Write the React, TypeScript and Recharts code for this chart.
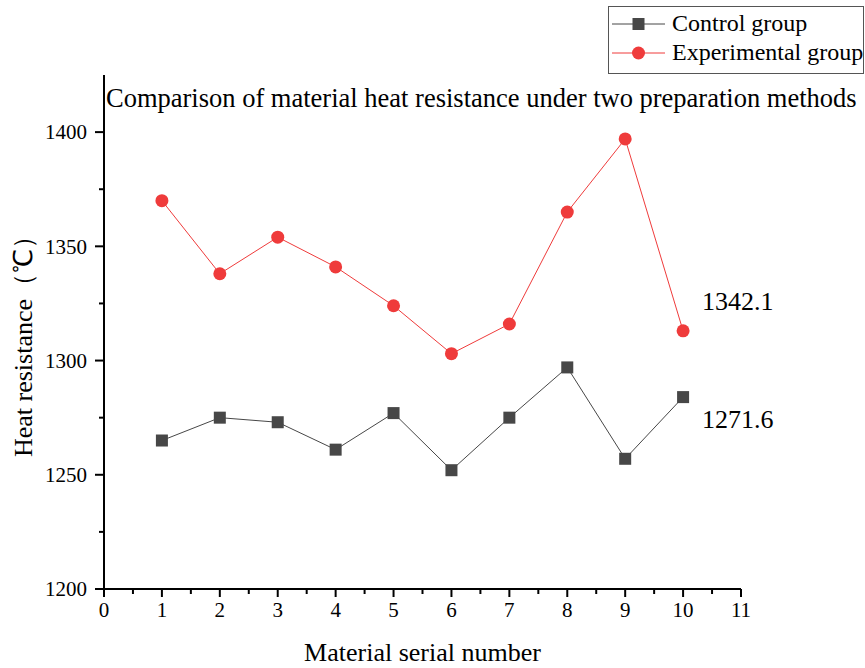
import React from 'react';
import {
  LineChart,
  Line,
  XAxis,
  YAxis,
  Legend,
  Label,
} from 'recharts';

const serialNumbers = [1, 2, 3, 4, 5, 6, 7, 8, 9, 10];
const controlValues = [1265, 1275, 1273, 1261, 1277, 1252, 1275, 1297, 1257, 1284];
const experimentalValues = [1370, 1338, 1354, 1341, 1324, 1303, 1316, 1365, 1397, 1313];
const xTicks = [0, 0.5, 1, 1.5, 2, 2.5, 3, 3.5, 4, 4.5, 5, 5.5, 6, 6.5, 7, 7.5, 8, 8.5, 9, 9.5, 10, 10.5, 11];
const yTicks = [1200, 1225, 1250, 1275, 1300, 1325, 1350, 1375, 1400];

const data = serialNumbers.map((n, i) => ({
  x: n,
  control: controlValues[i],
  experimental: experimentalValues[i],
}));

const mean = (arr: number[]) => arr.reduce((s, v) => s + v, 0) / arr.length;

const FONT = '"Liberation Serif", "Times New Roman", serif';
const CONTROL = '#474747';
const EXP = '#ef3b3b';

const XTick = (props: any) => {
  const { x, y, payload } = props;
  const axisY = y - 12;
  const major = Number.isInteger(payload.value);
  return (
    <g>
      <line x1={x} x2={x} y1={axisY} y2={axisY + (major ? 8 : 5)} stroke="#000" strokeWidth={2} />
      {major && (
        <text x={x} y={axisY + 12} dy="0.75em" textAnchor="middle" fontSize={21} fontFamily={FONT} fill="#000">
          {payload.value}
        </text>
      )}
    </g>
  );
};

const YTick = (props: any) => {
  const { x, y, payload } = props;
  const axisX = x + 17;
  const major = payload.value % 50 === 0;
  return (
    <g>
      <line x1={axisX} x2={axisX - (major ? 9 : 5)} y1={y} y2={y} stroke="#000" strokeWidth={2} />
      {major && (
        <text x={axisX - 17} y={y} dy="0.35em" textAnchor="end" fontSize={21} fontFamily={FONT} fill="#000">
          {payload.value}
        </text>
      )}
    </g>
  );
};

const SquareDot = (props: any) => {
  const { cx, cy } = props;
  return <rect x={cx - 6} y={cy - 6} width={12} height={12} fill={CONTROL} />;
};

const CircleDot = (props: any) => {
  const { cx, cy } = props;
  return <circle cx={cx} cy={cy} r={6.5} fill={EXP} />;
};

// mean value written next to the last point of each series
const endLabel = (text: string, dy: number) => (props: any) => {
  const { x, y, index } = props;
  if (index !== serialNumbers.length - 1) return null;
  return (
    <text x={x + 19} y={y + dy} dy="0.35em" fontSize={26} fontFamily={FONT} fill="#000">
      {text}
    </text>
  );
};

const LegendBox = () => (
  <div
    style={{
      border: '1px solid #555',
      background: '#fff',
      width: 254,
      height: 64,
      boxSizing: 'content-box',
      fontFamily: FONT,
      fontSize: 24,
      color: '#000',
      paddingTop: 2,
    }}
  >
    {[
      { name: 'Control group', color: CONTROL, shape: 'square' },
      { name: 'Experimental group', color: EXP, shape: 'circle' },
    ].map((item) => (
      <div key={item.name} style={{ display: 'flex', alignItems: 'center', height: 29, lineHeight: '29px' }}>
        <svg width={60} height={20} style={{ marginLeft: 3, flexShrink: 0 }}>
          <line x1={0} x2={53} y1={10} y2={10} stroke={item.color} strokeWidth={1} />
          {item.shape === 'square' ? (
            <rect x={20.5} y={4} width={12} height={12} fill={item.color} />
          ) : (
            <circle cx={26.5} cy={10} r={6.5} fill={item.color} />
          )}
        </svg>
        <span style={{ whiteSpace: 'nowrap' }}>{item.name}</span>
      </div>
    ))}
  </div>
);

export default function App() {
  return (
    <div style={{ position: 'absolute', left: 0, top: 0, width: 865, height: 668, background: '#fff' }}>
      <LineChart
        width={865}
        height={668}
        data={data}
        margin={{ top: 75, right: 124, bottom: 0, left: 0 }}
      >
        <XAxis
          dataKey="x"
          type="number"
          domain={[0, 11]}
          ticks={xTicks}
          interval={0}
          height={79}
          tickLine={false}
          tickSize={8}
          tickMargin={4}
          tick={<XTick />}
          axisLine={{ stroke: '#000', strokeWidth: 2 }}
        >
          <Label
            content={(p: any) => {
              const vb = p.viewBox;
              return (
                <text
                  x={vb.x + vb.width / 2}
                  y={vb.y + 72}
                  textAnchor="middle"
                  fontSize={26}
                  fontFamily={FONT}
                  fill="#000"
                >
                  Material serial number
                </text>
              );
            }}
          />
        </XAxis>
        <YAxis
          type="number"
          domain={[1200, 1425]}
          ticks={yTicks}
          interval={0}
          width={104}
          tickLine={false}
          tickSize={9}
          tickMargin={8}
          tick={<YTick />}
          axisLine={{ stroke: '#000', strokeWidth: 2 }}
        >
          <Label
            content={(p: any) => {
              const vb = p.viewBox;
              const cx = 23;
              const cy = vb.y + vb.height / 2 + 8;
              return (
                <text
                  x={cx}
                  y={cy}
                  dy="0.35em"
                  textAnchor="middle"
                  transform={`rotate(-90 ${cx} ${cy})`}
                  fontSize={26}
                  fontFamily={FONT}
                  fill="#000"
                >
                  Heat resistance（℃）
                </text>
              );
            }}
          />
        </YAxis>
        <Legend
          layout="horizontal"
          verticalAlign="middle"
          align="center"
          content={<LegendBox />}
          wrapperStyle={{ position: 'absolute', left: 608, top: 6, width: 256, height: 'auto' }}
        />
        <Line
          dataKey="control"
          name="Control group"
          stroke={CONTROL}
          strokeWidth={1}
          dot={<SquareDot />}
          activeDot={false}
          isAnimationActive={false}
          label={endLabel(mean(controlValues).toFixed(1), 22)}
        />
        <Line
          dataKey="experimental"
          name="Experimental group"
          stroke={EXP}
          strokeWidth={1}
          dot={<CircleDot />}
          activeDot={false}
          isAnimationActive={false}
          label={endLabel(mean(experimentalValues).toFixed(1), -30)}
        />
      </LineChart>
      <svg width={865} height={130} style={{ position: 'absolute', left: 0, top: 0, pointerEvents: 'none' }}>
        <text x={106} y={107} fontSize={26.5} fontFamily={FONT} fill="#000">
          Comparison of material heat resistance under two preparation methods
        </text>
      </svg>
    </div>
  );
}
